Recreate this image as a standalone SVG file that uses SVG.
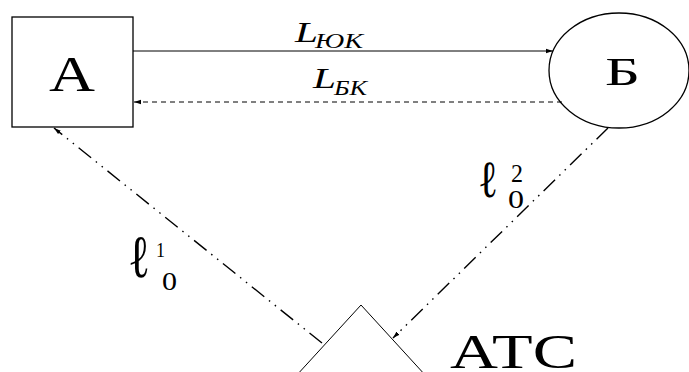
<svg xmlns="http://www.w3.org/2000/svg" width="689" height="372" viewBox="0 0 689 372">
<style>
.shape{fill:#fff;stroke:#000;stroke-width:1.3}
.it{font-style:italic}
.solid{stroke:#000;stroke-width:1;fill:none}
.dash{stroke:#000;stroke-width:1;fill:none;stroke-dasharray:5 4}
.dd{stroke:#000;stroke-width:1.4;fill:none;stroke-dasharray:16 6 1.5 6 1.5 6}
</style>
<defs>
<marker id="ah" markerWidth="8" markerHeight="6" refX="7" refY="3" orient="auto" markerUnits="userSpaceOnUse">
<path d="M0,0.8 L7,3 L0,5.2 Z" fill="#000"/>
</marker>
</defs>
<rect width="689" height="372" fill="#fff"/>
<g font-family="'Liberation Serif', 'DejaVu Serif', serif" fill="#000">
<g id="nodeA">
<rect class="shape" x="12" y="17" width="121" height="110"/>
<text x="49" y="91" font-size="50" textLength="46" lengthAdjust="spacingAndGlyphs">А</text>
</g>
<g id="nodeB">
<ellipse class="shape" cx="619" cy="70.5" rx="70" ry="57.5"/>
<text x="605" y="85" font-size="41" textLength="35" lengthAdjust="spacingAndGlyphs">Б</text>
</g>
<g id="nodeATC">
<polyline class="solid" points="296,376 361,305 426,376" stroke-width="1.2"/>
<text x="450" y="368" font-size="49" textLength="127" lengthAdjust="spacingAndGlyphs">АТС</text>
</g>
<g id="connectors">
<line class="solid" x1="133" y1="51" x2="553" y2="51" marker-end="url(#ah)"/>
<line class="dash" x1="562" y1="102" x2="134" y2="102" marker-end="url(#ah)"/>
<line class="dd" x1="322" y1="343" x2="54" y2="128" marker-end="url(#ah)"/>
<line class="dd" x1="608" y1="128" x2="393" y2="338" marker-end="url(#ah)"/>
</g>
<g id="labels">
<text class="it" x="295" y="42" font-size="30" textLength="23" lengthAdjust="spacingAndGlyphs">L</text>
<text class="it" x="315" y="48" font-size="20" textLength="48" lengthAdjust="spacingAndGlyphs">ЮК</text>
<text class="it" x="313" y="88" font-size="30" textLength="23" lengthAdjust="spacingAndGlyphs">L</text>
<text class="it" x="334" y="95" font-size="20" textLength="33" lengthAdjust="spacingAndGlyphs">БК</text>
<text x="128" y="277" font-size="60" textLength="22" lengthAdjust="spacingAndGlyphs">ℓ</text>
<text x="156" y="257" font-size="22" textLength="9" lengthAdjust="spacingAndGlyphs">1</text>
<text x="162" y="290" font-size="25" textLength="15" lengthAdjust="spacingAndGlyphs">0</text>
<text x="478" y="197" font-size="52" textLength="20" lengthAdjust="spacingAndGlyphs">ℓ</text>
<text x="511" y="182" font-size="25" textLength="12" lengthAdjust="spacingAndGlyphs">2</text>
<text x="508" y="208" font-size="25" textLength="16" lengthAdjust="spacingAndGlyphs">0</text>
</g>
</g>
</svg>
